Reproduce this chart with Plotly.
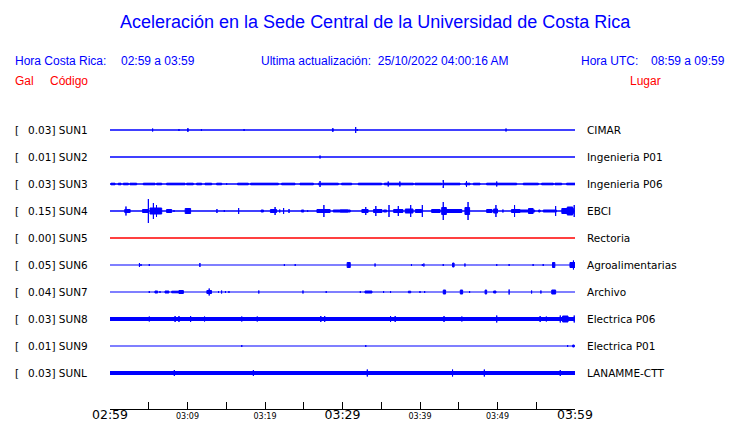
import plotly.graph_objects as go

# ---------------- data ----------------
TITLE = "Aceleración en la Sede Central de la Universidad de Costa Rica"
HORA_CR = "02:59 a 03:59"
ULTIMA = "25/10/2022 04:00:16 AM"
HORA_UTC = "08:59 a 09:59"

CODES = ["SUN1", "SUN2", "SUN3", "SUN4", "SUN5", "SUN6", "SUN7", "SUN8", "SUN9", "SUNL"]
GAL = ["0.03", "0.01", "0.03", "0.15", "0.00", "0.05", "0.04", "0.03", "0.01", "0.03"]
LUGAR = ["CIMAR", "Ingenieria P01", "Ingenieria P06", "EBCI", "Rectoria",
         "Agroalimentarias", "Archivo", "Electrica P06", "Electrica P01", "LANAMME-CTT"]

# minutes after 02:59
TICK_MIN = [0, 5, 10, 15, 20, 25, 30, 35, 40, 45, 50, 55, 60]
TICK_TEXT = ["02:59", "", "03:09", "", "03:19", "", "03:29", "", "03:39", "", "03:49", "", "03:59"]
TICK_BIG = ["02:59", "03:29", "03:59"]

# bursts: (start minute, end minute, half amplitude)
SUN1_BURSTS = [(5.5, 5.5, 1.5), (8.9, 8.9, 1), (10.0, 10.1, 1.5), (11.8, 11.8, 1), (17.3, 17.3, 1),
               (28.7, 28.8, 1.5), (31.7, 31.7, 3), (31.9, 31.9, 1), (51.1, 51.1, 1.5)]
SUN2_BURSTS = [(27.1, 27.1, 1.5)]
SUN3_BURSTS = [(0.13, 0.65, 0.8), (1.07, 1.42, 0.8), (1.72, 2.37, 0.8), (2.58, 3.44, 0.8), (4.30, 5.81, 0.8),
               (6.02, 6.67, 0.8), (7.31, 9.68, 0.8), (9.89, 10.75, 0.8), (11.18, 11.83, 0.8), (12.26, 13.12, 0.8),
               (13.76, 14.41, 0.8), (15.05, 15.05, 1), (16.47, 17.85, 0.8), (18.15, 21.72, 0.8),
               (22.15, 23.87, 0.8), (24.52, 26.24, 0.8), (26.88, 29.46, 0.8), (29.89, 31.18, 0.8),
               (32.04, 35.05, 0.8), (35.40, 39.14, 0.8), (39.35, 42.80, 0.8), (43.01, 45.16, 0.8),
               (45.81, 46.45, 0.8), (46.88, 47.74, 0.8), (48.60, 52.47, 0.8), (53.33, 55.27, 0.8),
               (55.70, 57.20, 0.8), (57.42, 58.28, 0.8), (58.92, 60.0, 0.8),
               (27.1, 27.1, 3), (35.9, 35.9, 2.5), (37.4, 37.4, 2.5), (43.0, 43.0, 4),
               (46.0, 46.0, 3), (49.9, 49.9, 2.5)]
SUN4_BURSTS = [(1.9, 2.6, 1.5), (2.06, 2.06, 4.5), (4.2, 4.9, 1.5), (4.95, 4.95, 12), (5.16, 6.67, 3),
               (5.6, 5.6, 8), (6.0, 6.0, 6), (7.3, 7.96, 1.5), (8.26, 8.26, 1), (9.7, 10.4, 2.5),
               (13.8, 13.8, 2), (14.75, 14.75, 1), (16.6, 16.6, 3), (19.5, 19.8, 1),
               (20.7, 21.5, 1.5), (21.3, 21.3, 4), (21.9, 21.9, 1.5), (22.4, 22.4, 3), (23.1, 23.1, 2),
               (24.7, 25.0, 1), (25.5, 25.5, 1), (26.7, 28.4, 1.5), (27.6, 27.6, 6), (28.8, 30.7, 1),
               (29.7, 31.0, 1), (32.5, 33.3, 1.5), (33.0, 33.0, 4), (34.0, 35.1, 1.5), (34.3, 34.3, 5),
               (35.3, 35.7, 1), (36.0, 36.0, 6), (36.6, 37.8, 1.5), (37.2, 37.2, 5),
               (38.1, 39.1, 2), (38.8, 38.8, 6), (39.4, 40.2, 1.5), (40.3, 40.3, 6),
               (41.5, 42.6, 1.5), (42.8, 43.4, 3.5), (43.0, 43.0, 9), (43.4, 45.4, 1.5),
               (45.8, 46.4, 3.5), (46.2, 46.2, 9), (48.6, 49.3, 1.5), (49.5, 50.0, 2), (49.8, 49.8, 6),
               (50.7, 50.7, 1.5), (51.8, 52.9, 1.5), (52.2, 52.2, 6), (52.9, 54.8, 1), (54.0, 54.6, 2.5),
               (55.3, 55.5, 1), (55.9, 57.6, 1), (57.5, 57.5, 5), (58.3, 59.8, 2.5),
               (59.0, 59.7, 4), (59.9, 59.9, 6)]
SUN5_BURSTS = []
SUN6_BURSTS = [(3.8, 3.8, 2), (4.0, 4.0, 1), (5.07, 5.07, 1), (11.6, 11.6, 2), (22.5, 22.5, 1),
               (23.9, 23.9, 1), (30.6, 31.0, 2.5), (34.2, 34.2, 1.5), (38.9, 38.9, 1), (40.3, 40.3, 1),
               (40.5, 40.5, 1.5), (43.0, 43.0, 1), (44.2, 44.4, 2), (45.8, 45.8, 1.5),
               (49.9, 49.9, 1), (51.5, 51.5, 1), (54.6, 54.6, 1), (55.9, 55.9, 1), (57.1, 57.4, 2.5),
               (59.35, 60.0, 2.5), (59.8, 59.8, 4.5)]
SUN7_BURSTS = [(5.07, 5.07, 1), (5.8, 6.15, 1), (6.45, 6.45, 1), (7.1, 7.6, 1), (7.96, 9.46, 0.8),
               (8.9, 9.46, 1.5), (12.5, 13.1, 1.5), (12.8, 12.8, 3.5), (14.0, 14.0, 1), (14.4, 14.4, 1.5),
               (14.9, 14.9, 1), (15.35, 15.35, 1), (19.2, 19.2, 1.5), (24.9, 24.9, 1.5),
               (27.9, 27.9, 1), (32.3, 32.3, 1), (32.9, 33.8, 1), (35.3, 35.3, 1), (36.2, 36.2, 1),
               (38.5, 38.8, 0.8), (40.0, 40.0, 1), (40.6, 40.6, 1), (43.0, 43.3, 2), (45.2, 45.5, 2),
               (46.4, 46.4, 1), (48.4, 48.6, 2), (49.5, 49.8, 1), (51.5, 51.5, 2.5),
               (54.4, 54.4, 1.5), (55.6, 55.6, 1.5), (57.0, 57.5, 2)]
SUN8_BURSTS = [(5.07, 5.07, 2.5), (8.4, 8.4, 3), (8.9, 8.9, 3), (10.4, 10.4, 3), (12.2, 12.2, 2.5),
               (17.0, 17.0, 2.5), (19.0, 19.0, 2.5), (27.2, 27.2, 3), (27.7, 27.7, 3), (36.2, 36.2, 3),
               (36.8, 36.8, 3), (43.1, 43.1, 3), (45.4, 45.4, 2.5), (49.9, 49.9, 3.5),
               (55.5, 55.5, 3), (56.3, 56.3, 2.5), (58.1, 58.1, 3.5), (58.4, 59.1, 3),
               (59.9, 59.9, 3.5)]
SUN9_BURSTS = [(17.0, 17.0, 1), (33.0, 33.0, 1), (59.05, 59.05, 1), (59.7, 59.9, 1)]
SUNL_BURSTS = [(8.3, 8.3, 3), (18.5, 18.5, 3), (33.2, 33.2, 3.5), (44.2, 44.2, 3.5),
               (48.3, 48.3, 3.5), (58.1, 58.1, 3)]

BURSTS = [SUN1_BURSTS, SUN2_BURSTS, SUN3_BURSTS, SUN4_BURSTS, SUN5_BURSTS,
          SUN6_BURSTS, SUN7_BURSTS, SUN8_BURSTS, SUN9_BURSTS, SUNL_BURSTS]

# ---------------- styles ----------------
BLUE = "#0000ff"
RED = "#ff0000"
TRACE_COLORS = [BLUE, BLUE, BLUE, BLUE, RED, BLUE, BLUE, BLUE, BLUE, BLUE]
BASE_WIDTHS = [1.5, 1.3, 1.3, 1.6, 1.3, 1.2, 1.2, 4, 1.2, 4]
ROW_STEP = 27

OFF = 8  # page body margin
W, H = 740 - OFF, 423 - OFF
# page-pixel geometry of the plotting area
PX0, PX1, PY0, PY1 = 110, 575, 103, 409
L, T = PX0 - OFF, PY0 - OFF
R, B = W - (PX1 - OFF), H - (PY1 - OFF)
PW, PH = PX1 - PX0, PY1 - PY0


def px_x(px):
    return (px - PX0) / PW


def px_y(py):
    return (PY1 - py) / PH


fig = go.Figure()
for k, code in enumerate(CODES):
    yc = -ROW_STEP * k
    col = TRACE_COLORS[k]
    fig.add_trace(go.Scatter(x=[TICK_MIN[0], TICK_MIN[-1]], y=[yc, yc], mode="lines",
                             line=dict(color=col, width=BASE_WIDTHS[k]), hoverinfo="skip",
                             showlegend=False))
    xs, ys = [], []
    for (s, e, a) in BURSTS[k]:
        xs += [s, e, e, s, s, None]
        ys += [yc - a, yc - a, yc + a, yc + a, yc - a, None]
    if xs:
        fig.add_trace(go.Scatter(x=xs, y=ys, mode="lines", fill="toself", fillcolor=col,
                                 line=dict(color=col, width=1), hoverinfo="skip",
                                 showlegend=False, connectgaps=False))

ann = []
LAB_FONT = dict(family="DejaVu Sans", size=10.5, color="#000000")
for k, code in enumerate(CODES):
    yc = -ROW_STEP * k
    ann.append(dict(x=px_x(12.5), y=yc, xref="paper", yref="y", text="[", showarrow=False,
                    xanchor="left", yanchor="middle", font=LAB_FONT))
    ann.append(dict(x=px_x(25.5), y=yc, xref="paper", yref="y", text=f"{GAL[k]}] {code}",
                    showarrow=False, xanchor="left", yanchor="middle", font=LAB_FONT))
    ann.append(dict(x=px_x(585), y=yc, xref="paper", yref="y", text=LUGAR[k], showarrow=False,
                    xanchor="left", yanchor="middle", font=LAB_FONT))

HF = dict(family="Liberation Sans, Arial", size=12, color=BLUE)
RF = dict(family="Liberation Sans, Arial", size=12, color=RED)
hdr = [
    dict(x=px_x(375), y=px_y(22), text=TITLE, xanchor="center",
         font=dict(family="Liberation Sans, Arial", size=18, color=BLUE)),
    dict(x=px_x(13), y=px_y(61), text="Hora Costa Rica:", xanchor="left", font=HF),
    dict(x=px_x(119), y=px_y(61), text=HORA_CR, xanchor="left", font=HF),
    dict(x=px_x(259), y=px_y(61), text="Ultima actualización:  " + ULTIMA, xanchor="left", font=HF),
    dict(x=px_x(579), y=px_y(61), text="Hora UTC:", xanchor="left", font=HF),
    dict(x=px_x(649), y=px_y(61), text=HORA_UTC, xanchor="left", font=HF),
    dict(x=px_x(13), y=px_y(81), text="Gal", xanchor="left", font=RF),
    dict(x=px_x(48), y=px_y(81), text="Código", xanchor="left", font=RF),
    dict(x=px_x(628), y=px_y(81), text="Lugar", xanchor="left", font=RF),
]
for a in hdr:
    a.update(xref="paper", yref="paper", showarrow=False, yanchor="middle")
ann += hdr

ticktext = []
for t in TICK_TEXT:
    if t in TICK_BIG:
        ticktext.append(t)
    elif t:
        ticktext.append(f'<span style="font-size:8px">{t}</span>')
    else:
        ticktext.append("")

fig.update_layout(
    width=W, height=H, margin=dict(l=L, r=R, t=T, b=B, pad=0, autoexpand=False),
    paper_bgcolor="white", plot_bgcolor="white",
    annotations=ann, showlegend=False,
    xaxis=dict(range=[TICK_MIN[0], TICK_MIN[-1]], tickmode="array", tickvals=TICK_MIN,
               ticktext=ticktext, ticks="inside", ticklen=7, tickcolor="black", tickwidth=1,
               showline=True, linecolor="black", linewidth=1, showgrid=False, zeroline=False,
               tickfont=dict(family="DejaVu Sans", size=12.5, color="black"), tickangle=0,
               ticklabelstandoff=-6, automargin=False, fixedrange=True),
    yaxis=dict(range=[-279, 27], visible=False, fixedrange=True, automargin=False),
)

fig.write_html("out.html")
